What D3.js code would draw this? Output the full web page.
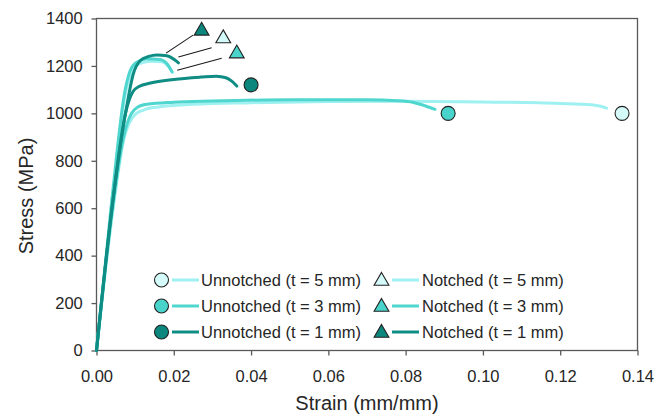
<!DOCTYPE html>
<html>
<head>
<meta charset="utf-8">
<script src="https://cdn.jsdelivr.net/npm/d3@7"></script>
<style>
  body { margin: 0; background: #fff; }
  text { font-family: "Liberation Sans", Arial, sans-serif; fill: #262626; }
</style>
</head>
<body>
<svg id="chart"></svg>
<script>
// stress-strain curves, [strain, stress MPa]
var unnotched5 = [[0,0],[0.0040,560],[0.0072,900],[0.0085,960],[0.010,995],[0.012,1013],[0.016,1027],[0.025,1038],[0.04,1045],[0.06,1050],[0.08,1051],[0.10,1048],[0.12,1042],[0.128,1036],[0.1305,1030],[0.132,1022]]
var unnotched3 = [[0,0],[0.0040,580],[0.0068,885],[0.008,960],[0.009,998],[0.0105,1025],[0.013,1038],[0.02,1047],[0.03,1052],[0.05,1057],[0.07,1057],[0.078,1053],[0.082,1046],[0.085,1032],[0.0876,1017]]
var unnotched1 = [[0,0],[0.0040,600],[0.0075,1000],[0.0085,1058],[0.0095,1093],[0.011,1113],[0.014,1128],[0.02,1143],[0.027,1153],[0.031,1157],[0.0335,1150],[0.035,1136],[0.0363,1115]]
var notched5 = [[0,0],[0.0040,610],[0.0072,1060],[0.0085,1150],[0.0098,1195],[0.0115,1212],[0.014,1220],[0.0168,1218],[0.0185,1200],[0.0197,1172]]
var notched3 = [[0,0],[0.0040,640],[0.0074,1098],[0.0087,1180],[0.0104,1216],[0.013,1230],[0.0164,1227],[0.0182,1210],[0.0195,1176]]
var notched1 = [[0,0],[0.0040,600],[0.0078,1028],[0.0095,1165],[0.0113,1222],[0.0135,1240],[0.0156,1246],[0.0182,1243],[0.0203,1225],[0.0212,1213]]

// failure markers
var circleMarks = [[0.136,1000],[0.091,1000],[0.040,1120]]
var triangleMarks = [[0.0328,1316],[0.0363,1252],[0.0272,1348]]
// leader lines from curve to triangle: [x1,y1,x2,y2]
var leaders = [[0.0212,1238,0.0298,1277],[0.0209,1182,0.0324,1232],[0.0180,1254,0.0250,1330]]

var seriesNames = ["Unnotched (t = 5 mm)","Unnotched (t = 3 mm)","Unnotched (t = 1 mm)","Notched (t = 5 mm)","Notched (t = 3 mm)","Notched (t = 1 mm)"]
var lineColors = ["#9ff0f0","#4fd6ce","#0f8d84"]
var markFills = ["#d4fafa","#48d3cb","#0b877e"]
var xTicks = [0,0.02,0.04,0.06,0.08,0.10,0.12,0.14]
var yTicks = [0,200,400,600,800,1000,1200,1400]

var W = 670, H = 416
var svg = d3.select("#chart").attr("width", W).attr("height", H)

var x = d3.scaleLinear().domain([0, 0.14]).range([96.5, 637.5])
var y = d3.scaleLinear().domain([0, 1400]).range([350.5, 18.5])

var line = d3.line().x(d => x(d[0])).y(d => y(d[1])).curve(d3.curveMonotoneX)

// frame
svg.append("rect")
    .attr("x", x(0)).attr("y", y(1400))
    .attr("width", x(0.14) - x(0)).attr("height", y(0) - y(1400))
    .style("fill", "none").style("stroke", "#595959").style("stroke-width", 1.3)

var xAxis = svg.append("g").attr("transform", "translate(0," + y(0) + ")")
    .call(d3.axisBottom(x).tickValues(xTicks).tickFormat(d3.format(".2f")).tickSize(5).tickSizeOuter(0))
var yAxis = svg.append("g").attr("transform", "translate(" + x(0) + ",0)")
    .call(d3.axisLeft(y).tickValues(yTicks).tickFormat(d3.format("d")).tickSize(5).tickSizeOuter(0))
;[xAxis, yAxis].forEach(function (g) {
    g.select(".domain").remove()
    g.selectAll("line").style("stroke", "#595959").style("stroke-width", 1.3)
    g.selectAll("text").style("font-size", "16.5px").style("fill", "#262626")
        .style("font-family", '"Liberation Sans", Arial, sans-serif')
})
xAxis.selectAll("text").attr("dy", "1.4em")
yAxis.selectAll("text").attr("dx", "-0.35em")

svg.append("text").attr("x", 367).attr("y", 410).attr("text-anchor", "middle")
    .style("font-size", "20px").text("Strain (mm/mm)")
svg.append("text").attr("transform", "translate(33,196) rotate(-90)").attr("text-anchor", "middle")
    .style("font-size", "20px").text("Stress (MPa)")

// curves, lightest first
var curves = [
    { d: unnotched5, c: lineColors[0] },
    { d: notched5, c: lineColors[0] },
    { d: unnotched3, c: lineColors[1] },
    { d: notched3, c: lineColors[1] },
    { d: unnotched1, c: lineColors[2] },
    { d: notched1, c: lineColors[2] }
]
svg.append("g").selectAll("path").data(curves).enter().append("path")
    .attr("d", d => line(d.d))
    .style("fill", "none").style("stroke", d => d.c).style("stroke-width", 3)
    .style("stroke-linejoin", "round").style("stroke-linecap", "round")

svg.append("g").selectAll("line").data(leaders).enter().append("line")
    .attr("x1", d => x(d[0])).attr("y1", d => y(d[1]))
    .attr("x2", d => x(d[2])).attr("y2", d => y(d[3]))
    .style("stroke", "#1a1a1a").style("stroke-width", 1.1)

var tri = d3.symbol().type(d3.symbolTriangle).size(95)

svg.append("g").selectAll("circle").data(circleMarks).enter().append("circle")
    .attr("cx", d => x(d[0])).attr("cy", d => y(d[1])).attr("r", 7)
    .style("fill", (d, i) => markFills[i]).style("stroke", "#222").style("stroke-width", 1.1)

svg.append("g").selectAll("path").data(triangleMarks).enter().append("path")
    .attr("d", tri)
    .attr("transform", d => "translate(" + x(d[0]) + "," + y(d[1]) + ")")
    .style("fill", (d, i) => markFills[i]).style("stroke", "#222").style("stroke-width", 1.1)

// legend
var rowY = [280, 306, 332]
var leg = svg.append("g")
rowY.forEach(function (ry, i) {
    leg.append("circle").attr("cx", 161.5).attr("cy", ry).attr("r", 7)
        .style("fill", markFills[i]).style("stroke", "#222").style("stroke-width", 1.1)
    leg.append("line").attr("x1", 172).attr("x2", 199).attr("y1", ry).attr("y2", ry)
        .style("stroke", lineColors[i]).style("stroke-width", 3)
    leg.append("text").attr("x", 201).attr("y", ry).attr("dy", "0.36em")
        .style("font-size", "16.5px").text(seriesNames[i])

    leg.append("path").attr("d", tri).attr("transform", "translate(381.5," + (ry + 1) + ")")
        .style("fill", markFills[i]).style("stroke", "#222").style("stroke-width", 1.1)
    leg.append("line").attr("x1", 392).attr("x2", 419).attr("y1", ry).attr("y2", ry)
        .style("stroke", lineColors[i]).style("stroke-width", 3)
    leg.append("text").attr("x", 422).attr("y", ry).attr("dy", "0.36em")
        .style("font-size", "16.5px").text(seriesNames[i + 3])
})
</script>
</body>
</html>
